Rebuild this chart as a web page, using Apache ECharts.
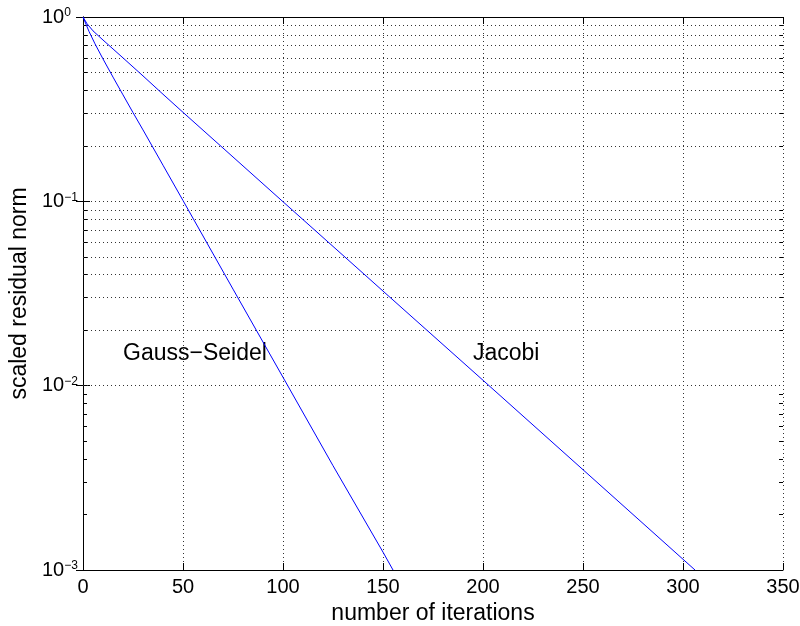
<!DOCTYPE html>
<html>
<head>
<meta charset="utf-8">
<style>
    html, body { margin: 0; height: 100%; background: #fff; }
    #chart { width: 800px; height: 626px; }
</style>
</head>
<body>
<div id="chart"></div>
<script src="https://cdn.jsdelivr.net/npm/echarts@6/dist/echarts.min.js"></script>
<script>
    // residual history: [iteration, scaled residual norm]
    var gaussSeidel = [
        [0, 1], [3, 0.835], [6, 0.715], [10, 0.592], [15, 0.472], [20, 0.378],
        [25, 0.303], [30, 0.244], [40, 0.157], [50, 0.101], [75, 0.0334],
        [100, 0.0111], [125, 0.00368], [150, 0.00125], [155, 0.001]
    ];
    var jacobi = [
        [0, 1], [2, 0.92], [5, 0.841], [10, 0.75], [20, 0.60], [30, 0.479],
        [40, 0.381], [50, 0.304], [75, 0.174], [100, 0.0995], [150, 0.0326],
        [200, 0.0107], [250, 0.0035], [306, 0.001]
    ];
    // text annotations placed in data coordinates
    var curveLabels = [
        { name: 'Gauss−Seidel', value: [20, 0.015] },
        { name: 'Jacobi', value: [195, 0.015] }
    ];
    var xName = 'number of iterations';
    var yName = 'scaled residual norm';

    // minor log positions 2..9 in every decade
    var minorVals = [];
    for (var k = -3; k < 0; k++) {
        for (var m = 2; m <= 9; m++) {
            minorVals.push(+(m * Math.pow(10, k)).toPrecision(3));
        }
    }

    var font = 'Liberation Sans, Arial, Helvetica, sans-serif';
    var gridStyle = { color: '#333', width: 1, type: [1, 3] };

    function logAxis(pos, extra) {
        var ax = {
            type: 'log',
            logBase: 10,
            min: 0.001,
            max: 1,
            position: pos,
            axisLine: { show: true, lineStyle: { color: '#000', width: 1 } },
            axisTick: { show: true, inside: true, length: 7, lineStyle: { color: '#000' } },
            axisLabel: { show: false },
            splitLine: { show: false }
        };
        return Object.assign(ax, extra || {});
    }

    var dom = document.getElementById('chart');
    var myChart = echarts.init(dom, null, { renderer: 'canvas' });

    var option = {
        animation: false,
        textStyle: { fontFamily: font, color: '#000' },
        grid: { left: 83, right: 17, top: 17, bottom: 56, containLabel: false, outerBoundsMode: 'none' },
        xAxis: [
            {
                type: 'value',
                min: 0,
                max: 350,
                interval: 50,
                position: 'bottom',
                name: xName,
                nameLocation: 'middle',
                nameGap: 30,
                nameTextStyle: { fontSize: 23, color: '#000', fontFamily: font },
                axisLine: { show: true, lineStyle: { color: '#000', width: 1 } },
                axisTick: { show: true, inside: true, length: 7, lineStyle: { color: '#000' } },
                axisLabel: { fontSize: 20, color: '#000', margin: 7, fontFamily: font },
                splitLine: { show: true, lineStyle: gridStyle }
            },
            {
                type: 'value',
                min: 0,
                max: 350,
                interval: 50,
                position: 'top',
                axisLine: { show: true, lineStyle: { color: '#000', width: 1 } },
                axisTick: { show: true, inside: true, length: 7, lineStyle: { color: '#000' } },
                axisLabel: { show: false },
                splitLine: { show: false }
            }
        ],
        yAxis: [
            logAxis('left', {
                name: yName,
                nameLocation: 'middle',
                nameGap: 41,
                nameRotate: 90,
                nameTextStyle: { fontSize: 23, color: '#000', fontFamily: font },
                axisLabel: {
                    show: true,
                    margin: 41,
                    align: 'left',
                    color: '#000',
                    formatter: function (v) {
                        var e = Math.round(Math.log10(v));
                        return '{b|10}{e|' + (e < 0 ? '\u2212' + (-e) : e) + '}';
                    },
                    rich: {
                        b: { fontSize: 20, fontFamily: font, color: '#000', lineHeight: 20, verticalAlign: 'bottom' },
                        e: { fontSize: 12, fontFamily: font, color: '#000', lineHeight: 12, verticalAlign: 'top', padding: [0, 0, 11, 0] }
                    }
                },
                splitLine: { show: true, lineStyle: gridStyle }
            }),
            logAxis('right'),
            logAxis('left', {
                axisLine: { show: false },
                axisTick: { show: true, inside: true, length: 4, customValues: minorVals, lineStyle: { color: '#000' } }
            }),
            logAxis('right', {
                axisLine: { show: false },
                axisTick: { show: true, inside: true, length: 4, customValues: minorVals, lineStyle: { color: '#000' } }
            })
        ],
        series: [
            {
                name: 'Gauss-Seidel',
                type: 'line',
                data: gaussSeidel,
                showSymbol: false,
                silent: true,
                z: 5,
                lineStyle: { color: '#0000ff', width: 1 },
                itemStyle: { color: '#0000ff' },
                markLine: {
                    silent: true,
                    z: 1,
                    symbol: ['none', 'none'],
                    label: { show: false },
                    lineStyle: gridStyle,
                    data: minorVals.map(function (v) { return { yAxis: v }; })
                }
            },
            {
                name: 'Jacobi',
                type: 'line',
                data: jacobi,
                showSymbol: false,
                silent: true,
                z: 5,
                lineStyle: { color: '#0000ff', width: 1 },
                itemStyle: { color: '#0000ff' }
            },
            {
                type: 'scatter',
                data: curveLabels,
                symbolSize: 0,
                silent: true,
                itemStyle: { opacity: 1 },
                label: {
                    show: true,
                    position: 'right',
                    distance: 0,
                    formatter: '{b}',
                    fontSize: 23,
                    color: '#000',
                    opacity: 1,
                    fontFamily: font
                }
            }
        ]
    };

    myChart.setOption(option);
</script>
</body>
</html>
